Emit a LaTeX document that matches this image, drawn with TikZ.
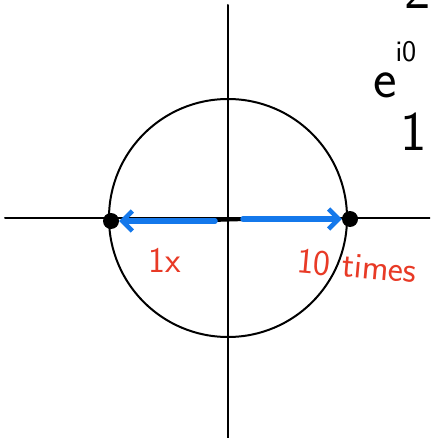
\documentclass[tikz,border=0pt]{standalone}
\usepackage{tikz}
\usetikzlibrary{arrows.meta}
\definecolor{penblue}{RGB}{20,120,235}
\definecolor{penred}{RGB}{232,58,38}

\begin{document}
\begin{tikzpicture}[x=1pt, y=-1pt, line cap=round,
  axis/.style={line width=2pt},
  dot/.style={circle, fill=black, inner sep=0pt, minimum size=16pt},
  vec/.style={penblue, line width=5.5pt, -{Straight Barb[length=10pt, width=20pt, line width=4.5pt]}},
  note/.style={penred, font=\sffamily\fontsize{36}{36}\selectfont},
  ink/.style={black, font=\sffamily\fontsize{56}{56}\selectfont},
  sup/.style={black, font=\sffamily\fontsize{30}{30}\selectfont}]
\useasboundingbox (0,0) rectangle (430,438);
\clip (0,0) rectangle (430,438);
% axes and unit circle
\coordinate (O) at (228,218);
\draw[axis] (5,218) -- (430,218);
\draw[axis] (228,5) -- (228,438);
\draw[axis] (O) circle[radius=119pt];
\node[dot] (L) at (111,221) {};
\node[dot] (R) at (350,219) {};
% arrows
\coordinate (a) at (215,221);
\coordinate (b) at (243,219);
\draw[line width=4pt] (212,220) -- (246,219);
\draw[vec] (a) -- (L.east);
\draw[vec] (b) -- (R.west);
% labels
\node[note] (n1) at (165,260) {1x};
\node[note, rotate=-5] (n2) at (357,266) {10 times};
\node[ink, anchor=base west] (e) at (370,98) {e};
\node[sup, anchor=base west] (ex) at (392,62) {i0};
\node[ink] (one) at (414,132) {1};
\node[ink, anchor=south] (top) at (418,12) {2};
\end{tikzpicture}
\end{document}
